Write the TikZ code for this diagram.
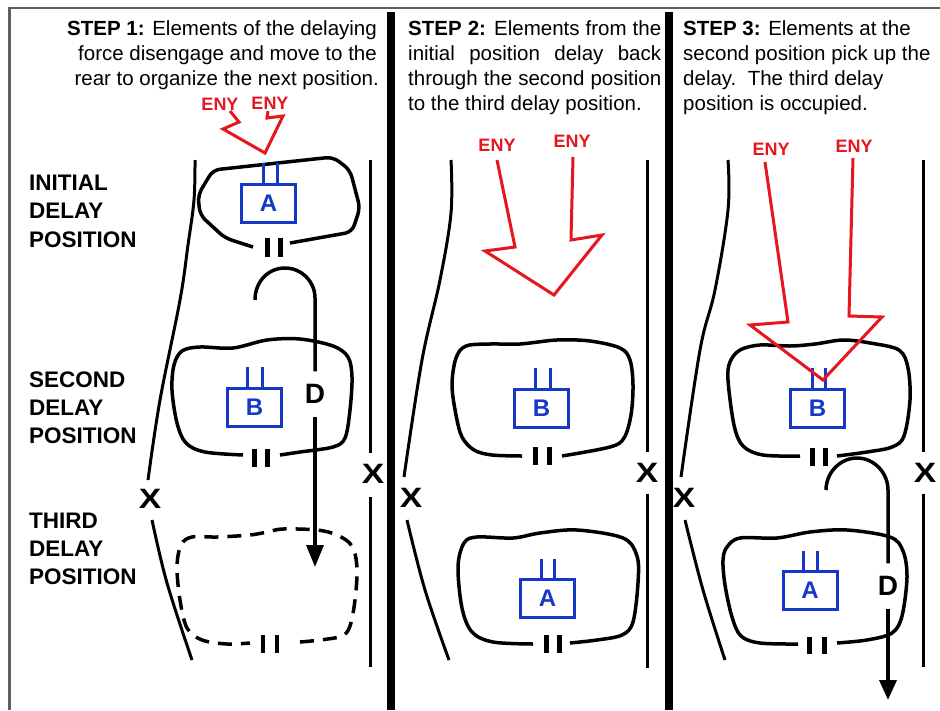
\documentclass[tikz,border=0pt]{standalone}
\usepackage{fontspec}
\setmainfont{Liberation Sans}
\usetikzlibrary{arrows.meta}
\definecolor{enyred}{RGB}{230,22,30}
\definecolor{unitblue}{RGB}{22,55,200}
\definecolor{framegray}{RGB}{95,95,95}
\begin{document}
\begin{tikzpicture}[x=1pt,y=-1pt,
 body/.style={inner sep=0pt, font=\fontsize{20.5}{25}\selectfont},
 bodyl/.style={body, anchor=base west},
 bodyr/.style={body, anchor=base east},
 poslabel/.style={inner sep=0pt, anchor=base west, font=\bfseries\fontsize{22.5}{28}\selectfont},
 eny/.style={inner sep=0pt, text=enyred, font=\bfseries\fontsize{18}{18}\selectfont},
 enyarrow/.style={draw=enyred, line width=3pt, line join=miter},
 blob/.style={draw=black, line width=3.5pt},
 dashblob/.style={blob, dash pattern=on 14pt off 9pt},
 bound/.style={draw=black, line width=3pt},
 unitbox/.style={draw=unitblue, line width=3pt, inner sep=0pt, minimum width=54pt, minimum height=38pt, text=unitblue, font=\bfseries\fontsize{24}{24}\selectfont},
 unitpost/.style={draw=unitblue, line width=3pt},
 gapmark/.style={draw=black, line width=4.5pt},
 xmark/.style={inner sep=0pt, font=\bfseries\fontsize{28}{28}\selectfont},
 dlabel/.style={inner sep=0pt, outer sep=13pt, font=\bfseries\fontsize{28}{28}\selectfont},
 move/.style={draw=black, line width=3.5pt},
 divider/.style={draw=black, line width=8pt},
]
\useasboundingbox (0,0) rectangle (940,710);
\fill[white] (0,0) rectangle (940,710);
% frame and dividers
\draw[framegray, line width=2.5pt] (9.5,710) -- (9.5,8) -- (940,8);
\draw[divider] (391,12) -- (391,710);
\draw[divider] (669,12) -- (669,710);

% ---------- texts ----------
\node[bodyr] (t1a) at (377,35) {\textbf{STEP 1:} Elements of the delaying};
\node[bodyr] (t1b) at (377,60) {force disengage and move to the};
\node[bodyr] (t1c) at (379,85) {rear to organize the next position.};

\node[bodyl] (t2a) at (408,35) {\makebox[253pt][s]{\textbf{STEP 2:} Elements from the}};
\node[bodyl] (t2b) at (408,60) {\makebox[253pt][s]{initial position delay back}};
\node[bodyl] (t2c) at (408,85) {\makebox[253pt][s]{through the second position}};
\node[bodyl] (t2d) at (408,110) {to the third delay position.};

\node[bodyl] (t3a) at (683,35) {\textbf{STEP 3:} Elements at the};
\node[bodyl] (t3b) at (683,60) {second position pick up the};
\node[bodyl] (t3c) at (683,85) {delay.\ \ The third delay};
\node[bodyl] (t3d) at (683,110) {position is occupied.};

\node[poslabel] (l1a) at (29,190) {INITIAL};
\node[poslabel] (l1b) at (29,218) {DELAY};
\node[poslabel] (l1c) at (29,247) {POSITION};
\node[poslabel] (l2a) at (29,387) {SECOND};
\node[poslabel] (l2b) at (29,415) {DELAY};
\node[poslabel] (l2c) at (29,443) {POSITION};
\node[poslabel] (l3a) at (29,528) {THIRD};
\node[poslabel] (l3b) at (29,556) {DELAY};
\node[poslabel] (l3c) at (29,584) {POSITION};

% ---------- boundaries ----------
\draw[bound] plot[smooth, tension=0.6] coordinates {(195,160) (194,200) (188,245) (180,300) (160,400) (148,480)};
\draw[bound] plot[smooth, tension=0.6] coordinates {(152,520) (167,583) (192,660)};
\draw[bound] (370,160) -- (370,453);
\draw[bound] (370,497) -- (370,667);
\node[xmark] (x1l) at (150,499) {\scalebox{1.2}[1]{X}};
\node[xmark] (x1r) at (373,474) {\scalebox{1.2}[1]{X}};

\draw[bound] plot[smooth, tension=0.6] coordinates {(451,160) (451,213) (440,280) (422,360) (404,477)};
\draw[bound] plot[smooth, tension=0.6] coordinates {(407,520) (425,590) (449,660)};
\draw[bound] (647,160) -- (647,452);
\draw[bound] (647,494) -- (647,668);
\node[xmark] (x2l) at (411,498) {\scalebox{1.2}[1]{X}};
\node[xmark] (x2r) at (647,473) {\scalebox{1.2}[1]{X}};

\draw[bound] plot[smooth, tension=0.6] coordinates {(728,160) (728,210) (715,290) (700,350) (681,477)};
\draw[bound] plot[smooth, tension=0.6] coordinates {(685,520) (703,590) (725,660)};
\draw[bound] (923,160) -- (923,452);
\draw[bound] (923,494) -- (923,667);
\node[xmark] (x3l) at (684,498) {\scalebox{1.2}[1]{X}};
\node[xmark] (x3r) at (925,473) {\scalebox{1.2}[1]{X}};

% ---------- panel 1 ----------
\draw[blob, rounded corners=7pt] (290,243) -- (352,232) -- (360,208) -- (350,170) -- (333,157) -- (213,170) -- (198,195) -- (200,215) -- (225,238) -- (253,247);
\draw[gapmark] (267.5,238) -- (267.5,257);
\draw[gapmark] (280.5,238) -- (280.5,257);
\node[unitbox] (boxA1) at (268.5,203.5) {A};
\draw[unitpost] ([xshift=-5.5pt]boxA1.north) -- ++(0,-20);
\draw[unitpost] ([xshift=8.5pt]boxA1.north) -- ++(0,-20);

\draw[blob] plot[smooth, tension=0.55] coordinates {(280,455) (300,452) (333,447) (345,438) (350,410) (352,377) (348,357) (333,346) (300,339) (267,340) (233,348) (200,347) (182,351) (174,365) (172,390) (177,423) (186,443) (205,452) (243,455)};
\draw[gapmark] (254.5,449) -- (254.5,467);
\draw[gapmark] (267.5,449) -- (267.5,467);
\node[unitbox] (boxB1) at (254.5,407.5) {B};
\draw[unitpost] ([xshift=-7.5pt]boxB1.north) -- ++(0,-20);
\draw[unitpost] ([xshift=7.5pt]boxB1.north) -- ++(0,-20);

\draw[dashblob] plot[smooth, tension=0.55] coordinates {(300,642) (320,640) (342,636) (350,626) (355,600) (357,568) (352,546) (337,535) (317,530) (283,529) (267,532) (250,535) (217,537) (192,537) (181,545) (177,567) (180,600) (187,628) (202,640) (227,644) (250,643)};
\draw[gapmark] (263,635) -- (263,653);
\draw[gapmark] (277,635) -- (277,653);

\node[dlabel] (D1) at (315,394) {D};
\draw[move] (255,300) .. controls (255,281.4) and (268.4,268) .. (285,268) .. controls (301.6,268) and (315,281.4) .. (315,298) -- (D1.north);
\draw[move, -{Triangle[length=22pt,width=17pt]}] (D1.south) -- (315,567);

\node[eny] (e1a) at (220,104) {ENY};
\node[eny] (e1b) at (270,103) {ENY};
\draw[enyarrow] (230,111) -- (239,122) -- (223,129) -- (265,153) -- (283,116) -- (267,118) -- (268,111);

% ---------- panel 2 ----------
\draw[blob] plot[smooth, tension=0.55] coordinates {(562,456) (610,447) (624,438) (631,415) (633,385) (630,360) (620,348) (590,341) (557,340) (520,344) (490,344) (466,346) (456,358) (452,385) (456,415) (462,437) (474,450) (492,455) (522,456)};
\draw[gapmark] (535.5,447) -- (535.5,465);
\draw[gapmark] (549.5,447) -- (549.5,465);
\node[unitbox] (boxB2) at (541.5,408) {B};
\draw[unitpost] ([xshift=-6.5pt]boxB2.north) -- ++(0,-20);
\draw[unitpost] ([xshift=8.5pt]boxB2.north) -- ++(0,-20);

\draw[blob] plot[smooth, tension=0.55] coordinates {(570,643) (597,640) (622,635) (633,622) (638,583) (637,556) (623,538) (577,530) (540,533) (513,538) (477,537) (464,543) (458,567) (462,608) (472,632) (493,642) (533,644)};
\draw[gapmark] (546.5,635) -- (546.5,653);
\draw[gapmark] (559.5,635) -- (559.5,653);
\node[unitbox] (boxA2) at (547.5,598) {A};
\draw[unitpost] ([xshift=-6.5pt]boxA2.north) -- ++(0,-19);
\draw[unitpost] ([xshift=6.5pt]boxA2.north) -- ++(0,-19);

\node[eny] (e2a) at (497,145) {ENY};
\node[eny] (e2b) at (572,141) {ENY};
\draw[enyarrow] (497,160) -- (515,247) -- (485,251) -- (554,295) -- (602,235) -- (571,240) -- (573,157);

% ---------- panel 3 ----------
\draw[blob] plot[smooth, tension=0.55] coordinates {(837,456) (867,452) (892,447) (904,436) (910,400) (908,368) (899,350) (870,343) (843,340) (815,344) (790,346) (760,345) (740,350) (730,362) (728,380) (734,425) (743,446) (763,455) (800,456)};
\draw[gapmark] (812.5,448) -- (812.5,466);
\draw[gapmark] (825.5,448) -- (825.5,466);
\node[unitbox] (boxB3) at (817.5,408) {B};
\draw[unitpost] ([xshift=-5.5pt]boxB3.north) -- ++(0,-20);
\draw[unitpost] ([xshift=7.5pt]boxB3.north) -- ++(0,-20);

\draw[blob] plot[smooth, tension=0.55] coordinates {(837,643) (867,640) (892,633) (902,616) (907,577) (903,551) (890,537) (847,530) (810,532) (777,538) (740,538) (727,547) (723,560) (725,585) (732,617) (741,636) (760,643) (798,644)};
\draw[gapmark] (809.5,637) -- (809.5,654);
\draw[gapmark] (824.5,637) -- (824.5,654);
\node[unitbox] (boxA3) at (810,590) {A};
\draw[unitpost] ([xshift=-7pt]boxA3.north) -- ++(0,-19);
\draw[unitpost] ([xshift=7pt]boxA3.north) -- ++(0,-19);

\node[dlabel] (D3) at (888,586) {D};
\draw[move] (826,490) .. controls (826,472.9) and (839.9,458) .. (857,458) .. controls (874.1,458) and (888,472.9) .. (888,490) -- (D3.north);
\draw[move, -{Triangle[length=20pt,width=17pt]}] (D3.south) -- (888,700);

\node[eny] (e3a) at (771,149) {ENY};
\node[eny] (e3b) at (854,146) {ENY};
\draw[enyarrow] (765,162) -- (788,322) -- (750,325) -- (823,380) -- (882,317) -- (849,316) -- (853,158);
\end{tikzpicture}
\end{document}
